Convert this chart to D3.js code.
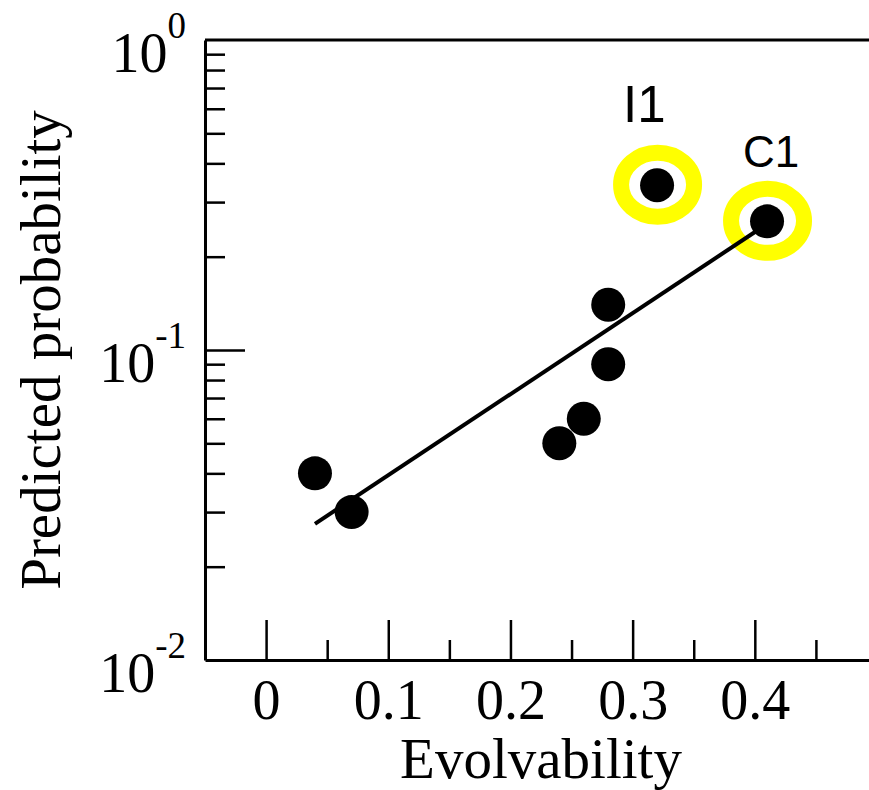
<!DOCTYPE html>
<html>
<head>
<meta charset="utf-8">
<script src="https://cdn.jsdelivr.net/npm/d3@7"></script>
<style>
  body { margin: 0; background: #fff; }
  .axis path, .axis line { stroke: #000; }
  .serif { font-family: "Liberation Serif", "Times New Roman", serif; fill: #000; }
  .sans { font-family: "Liberation Sans", Arial, sans-serif; fill: #000; }
</style>
</head>
<body>
<div id="chart"></div>
<script>
// data
var evolvability = [0.04, 0.07, 0.24, 0.26, 0.28, 0.28, 0.32, 0.41];
var probability  = [0.04, 0.03, 0.05, 0.06, 0.09, 0.14, 0.34, 0.26];
var pointNames   = ['', '', '', '', '', '', 'I1', 'C1'];

// fitted line, two ends
var fitX = [0.04, 0.41];
var fitY = [0.0275, 0.255];

var xTicksMajor = [0, 0.1, 0.2, 0.3, 0.4];
var xTicksMinor = [0.05, 0.15, 0.25, 0.35, 0.45];
var yTicksMajor = [0.01, 0.1, 1];
var yTickExp    = ['-2', '-1', '0'];
var yTicksMinor = [0.02, 0.03, 0.04, 0.05, 0.06, 0.07, 0.08, 0.09,
                   0.2, 0.3, 0.4, 0.5, 0.6, 0.7, 0.8, 0.9];

var width = 869, height = 790;
var frame = { left: 205, right: 877, top: 40, bottom: 660 };

var xScale = d3.scaleLinear()
  .domain([-0.05, 0.5])
  .range([frame.left, frame.right]);

var yScale = d3.scaleLog()
  .domain([0.01, 1])
  .range([frame.bottom, frame.top]);

var svg = d3.select('#chart')
  .append('svg')
  .attr('width', width)
  .attr('height', height);

// top frame line
svg.append('line')
  .attr('x1', frame.left).attr('x2', frame.right)
  .attr('y1', frame.top).attr('y2', frame.top)
  .attr('stroke', '#000')
  .attr('stroke-width', 3);

// bottom axis: minor then major ticks pointing inward
svg.append('g')
  .attr('class', 'axis')
  .attr('transform', 'translate(0,' + frame.bottom + ')')
  .call(d3.axisBottom(xScale).tickValues(xTicksMinor).tickSizeInner(-20).tickSizeOuter(0).tickFormat(''))
  .call(function(g) {
    g.select('.domain').attr('stroke-width', 3);
    g.selectAll('.tick line').attr('stroke-width', 2.5);
  });

var xAxisMajor = svg.append('g')
  .attr('class', 'axis')
  .attr('transform', 'translate(0,' + frame.bottom + ')')
  .call(d3.axisBottom(xScale).tickValues(xTicksMajor).tickSizeInner(-40).tickSizeOuter(0)
    .tickPadding(19).tickFormat(function(d) { return d === 0 ? '0' : d3.format('.1f')(d); }));

xAxisMajor.select('.domain').remove();
xAxisMajor.selectAll('.tick line').attr('stroke-width', 2.5);
xAxisMajor.selectAll('.tick text')
  .attr('class', 'serif')
  .style('font-size', '56px');

// left axis
svg.append('g')
  .attr('class', 'axis')
  .attr('transform', 'translate(' + frame.left + ',0)')
  .call(d3.axisLeft(yScale).tickValues(yTicksMinor).tickSizeInner(-20).tickSizeOuter(0).tickFormat(''))
  .call(function(g) {
    g.select('.domain').attr('stroke-width', 3);
    g.selectAll('.tick line').attr('stroke-width', 2.5);
  });

svg.append('g')
  .attr('class', 'axis')
  .attr('transform', 'translate(' + frame.left + ',0)')
  .call(d3.axisLeft(yScale).tickValues([0.1]).tickSizeInner(-40).tickSizeOuter(0).tickFormat(''))
  .call(function(g) {
    g.select('.domain').remove();
    g.selectAll('.tick line').attr('stroke-width', 2.5);
  });

// power-of-ten labels
var yLab = svg.selectAll('text.ylab')
  .data(yTicksMajor)
  .enter()
  .append('text')
  .attr('class', 'serif ylab')
  .attr('x', 186)
  .attr('y', function(d) { return yScale(d) + 31.5; })
  .attr('text-anchor', 'end')
  .style('font-size', '56px');

yLab.append('tspan').text('10');
yLab.append('tspan')
  .attr('dy', -34)
  .style('font-size', '37px')
  .text(function(d, i) { return yTickExp[i]; });

// axis titles
svg.append('text')
  .attr('class', 'serif')
  .attr('x', 541)
  .attr('y', 778)
  .attr('text-anchor', 'middle')
  .style('font-size', '57px')
  .text('Evolvability');

svg.append('text')
  .attr('class', 'serif')
  .attr('transform', 'translate(60,350) rotate(-90)')
  .attr('text-anchor', 'middle')
  .style('font-size', '57px')
  .text('Predicted probability');

var points = evolvability.map(function(x, i) {
  return { x: x, y: probability[i], name: pointNames[i] };
});
var named = points.filter(function(d) { return d.name; });

// yellow rings around the named points
svg.selectAll('ellipse.ring')
  .data(named)
  .enter()
  .append('ellipse')
  .attr('class', 'ring')
  .attr('cx', function(d) { return xScale(d.x) + 0.5; })
  .attr('cy', function(d) { return yScale(d.y) - 0.5; })
  .attr('rx', 36.5)
  .attr('ry', 32)
  .attr('fill', 'none')
  .attr('stroke', '#ffff00')
  .attr('stroke-width', 16);

// fit line
var line = d3.line()
  .x(function(d) { return xScale(d[0]); })
  .y(function(d) { return yScale(d[1]); });

svg.append('path')
  .datum(fitX.map(function(x, i) { return [x, fitY[i]]; }))
  .attr('d', line)
  .attr('fill', 'none')
  .attr('stroke', '#000')
  .attr('stroke-width', 4);

// dots
svg.selectAll('circle.dot')
  .data(points)
  .enter()
  .append('circle')
  .attr('class', 'dot')
  .attr('cx', function(d) { return xScale(d.x); })
  .attr('cy', function(d) { return yScale(d.y); })
  .attr('r', 17)
  .attr('fill', '#000');

// point names
var nameStyle = { I1: { dx: -34, dy: -63, size: 51 }, C1: { dx: -24, dy: -54, size: 44 } };

svg.selectAll('text.pname')
  .data(named)
  .enter()
  .append('text')
  .attr('class', 'sans pname')
  .attr('x', function(d) { return xScale(d.x) + nameStyle[d.name].dx; })
  .attr('y', function(d) { return yScale(d.y) + nameStyle[d.name].dy; })
  .style('font-size', function(d) { return nameStyle[d.name].size + 'px'; })
  .text(function(d) { return d.name; });
</script>
</body>
</html>
